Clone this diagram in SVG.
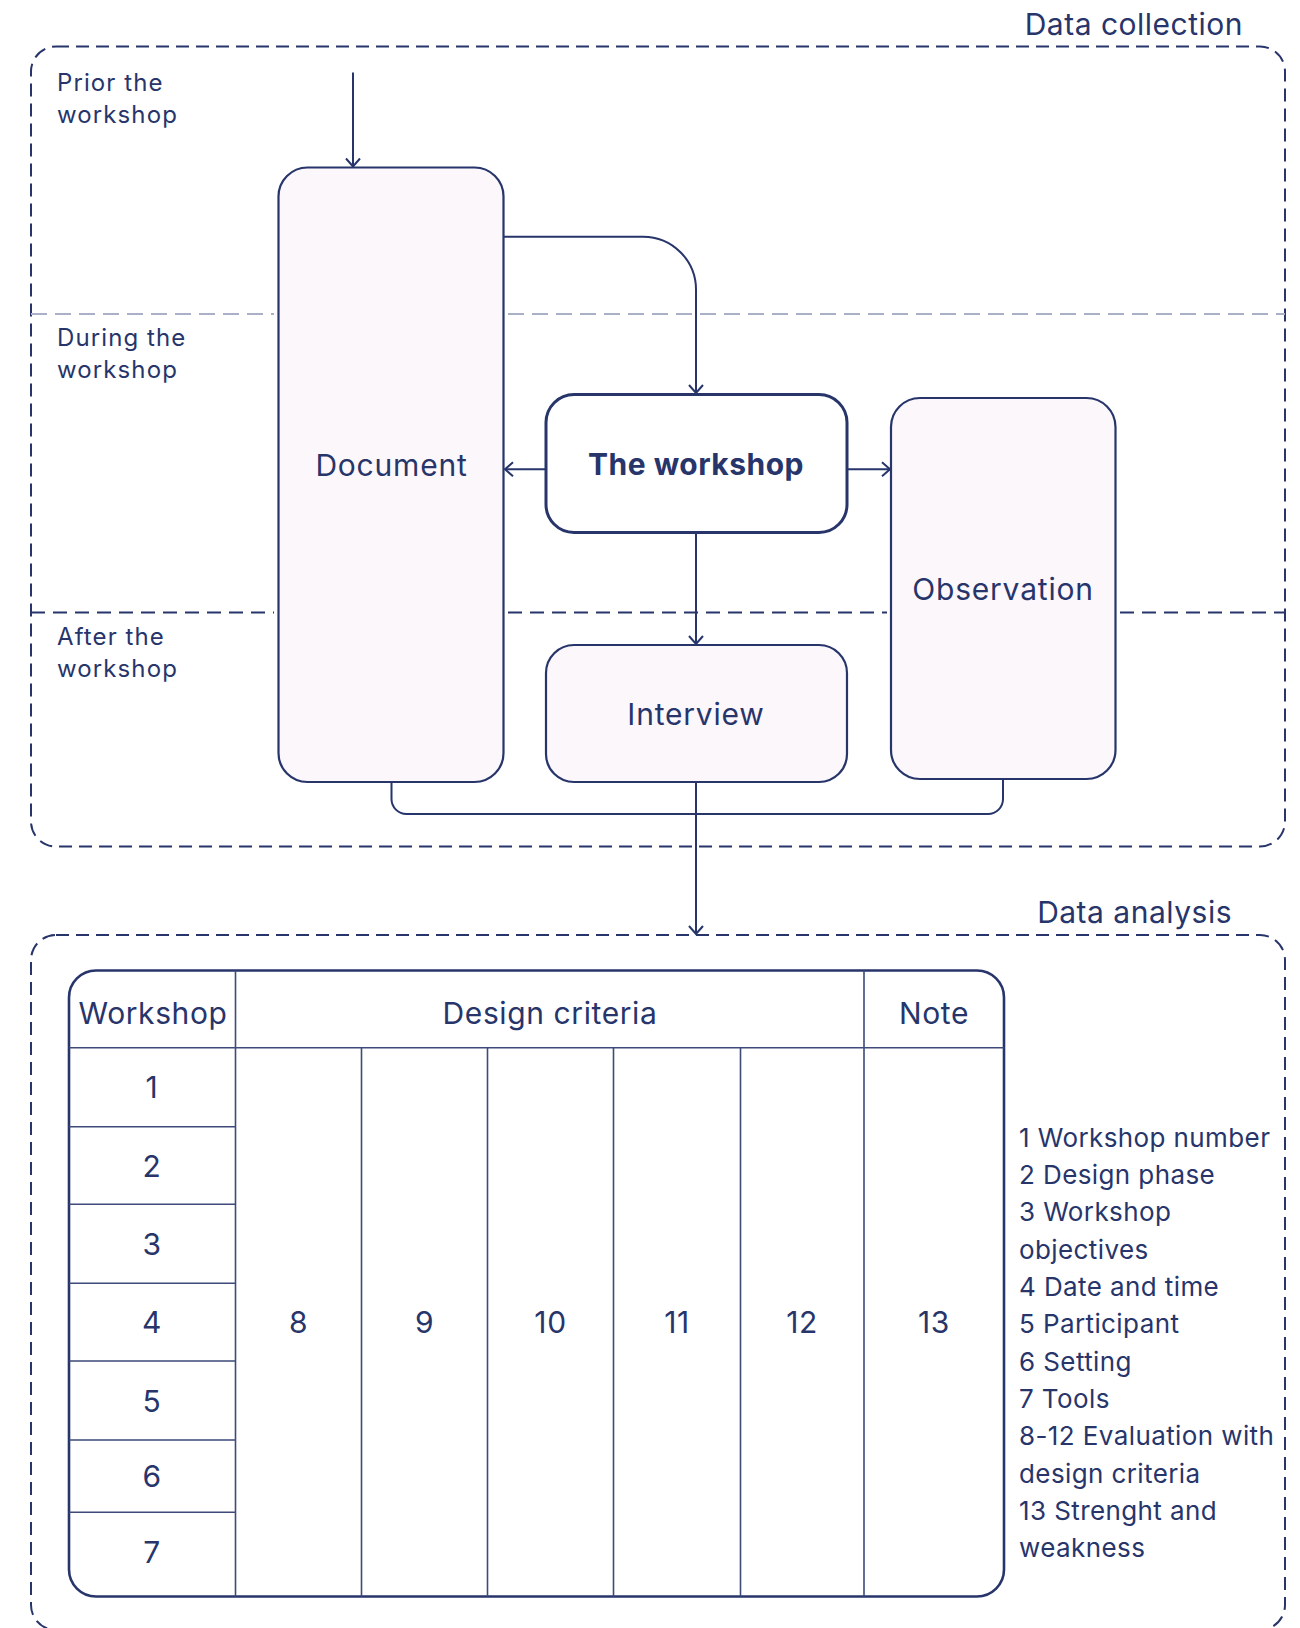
<svg xmlns="http://www.w3.org/2000/svg" width="1300" height="1628" viewBox="0 0 1300 1628">
  <style>
    text { font-family: Inter, "Liberation Sans", Arial, sans-serif; fill: #27356b; }
    .title { font-size: 30px; letter-spacing: 0.5px; text-anchor: end; }
    .phase { font-size: 24px; letter-spacing: 1.1px; }
    .node-label { font-size: 30px; letter-spacing: 0.8px; text-anchor: middle; }
    .bold { font-weight: 700; letter-spacing: 0.5px; }
    .cell { font-size: 30px; letter-spacing: 0.6px; text-anchor: middle; }
    .legend { font-size: 26px; letter-spacing: 0.4px; }
    .frame { fill: none; stroke: #27356b; stroke-width: 2; stroke-dasharray: 13 7; }
    .sep-light { fill: none; stroke: #a9b0c8; stroke-width: 2; stroke-dasharray: 16 8; }
    .sep-dark { fill: none; stroke: #27356b; stroke-width: 2; stroke-dasharray: 14 8; }
    .box { fill: #fcf7fb; stroke: #27356b; stroke-width: 2.2; }
    .box-main { fill: #ffffff; stroke: #27356b; stroke-width: 3; }
    .conn { fill: none; stroke: #27356b; stroke-width: 2; }
    .grid { fill: none; stroke: #3d4a7a; stroke-width: 1.6; }
    .tbl { fill: #ffffff; stroke: #27356b; stroke-width: 2.6; }
  </style>
  <defs>
    <marker id="arrow" viewBox="-10 -9 12 18" refX="0" refY="0" markerWidth="12" markerHeight="18" markerUnits="userSpaceOnUse" orient="auto">
      <path d="M-8,-7 L0,0 L-8,7" fill="none" stroke="#27356b" stroke-width="2"/>
    </marker>
  </defs>

  <!-- Data collection frame -->
  <g id="data-collection">
    <rect class="frame" x="31" y="46.5" width="1254" height="800" rx="25"/>
    <text class="title" x="1243" y="35">Data collection</text>
  </g>

  <!-- Phase separators -->
  <g id="phase-separators">
    <path class="sep-light" d="M31 314 H274 M508 314 H1285"/>
    <path class="sep-dark" d="M31 612.5 H274 M508 612.5 H887 M1120 612.5 H1285"/>
  </g>

  <!-- Phase labels -->
  <g id="phase-labels">
    <text class="phase" x="57" y="91">Prior the</text>
    <text class="phase" x="57" y="123">workshop</text>
    <text class="phase" x="57" y="346">During the</text>
    <text class="phase" x="57" y="378">workshop</text>
    <text class="phase" x="57" y="645">After the</text>
    <text class="phase" x="57" y="677">workshop</text>
  </g>

  <!-- Connectors -->
  <g id="connectors">
    <path class="conn" d="M353 72.5 V166.5" marker-end="url(#arrow)"/>
    <path class="conn" d="M504 236.7 H643 A53 53 0 0 1 696 289.7 V393" marker-end="url(#arrow)"/>
    <path class="conn" d="M545 469.3 H505" marker-end="url(#arrow)"/>
    <path class="conn" d="M847 469.3 H890" marker-end="url(#arrow)"/>
    <path class="conn" d="M696 533 V644" marker-end="url(#arrow)"/>
    <path class="conn" d="M391.5 782 V799 A15 15 0 0 0 406.5 814 H988 A15 15 0 0 0 1003 799 V779"/>
    <path class="conn" d="M696 782 V934" marker-end="url(#arrow)"/>
  </g>

  <!-- Nodes -->
  <g id="node-document">
    <rect class="box" x="278.5" y="167.5" width="225" height="614.5" rx="29"/>
    <text class="node-label" x="391.5" y="475.5">Document</text>
  </g>
  <g id="node-workshop">
    <rect class="box-main" x="546" y="394.5" width="301" height="138" rx="28"/>
    <text class="node-label bold" x="696" y="475">The workshop</text>
  </g>
  <g id="node-observation">
    <rect class="box" x="891" y="398" width="224.5" height="381" rx="29"/>
    <text class="node-label" x="1003" y="600">Observation</text>
  </g>
  <g id="node-interview">
    <rect class="box" x="546" y="645" width="301" height="137" rx="28"/>
    <text class="node-label" x="696" y="725">Interview</text>
  </g>

  <!-- Data analysis frame -->
  <g id="data-analysis">
    <rect class="frame" x="31" y="935" width="1254" height="695" rx="25"/>
    <text class="title" x="1232" y="923">Data analysis</text>
  </g>

  <!-- Analysis table -->
  <g id="analysis-table">
    <rect class="tbl" x="69" y="970.5" width="935" height="626" rx="27"/>
    <path class="grid" d="M69 1047.7 H1004
                          M235.5 970.5 V1596.5
                          M864 970.5 V1596.5
                          M361.5 1047.7 V1596.5
                          M487.5 1047.7 V1596.5
                          M613.5 1047.7 V1596.5
                          M740.5 1047.7 V1596.5
                          M69 1126.7 H235.5
                          M69 1204.3 H235.5
                          M69 1283.3 H235.5
                          M69 1361 H235.5
                          M69 1440 H235.5
                          M69 1512.3 H235.5"/>
    <text class="cell" x="153" y="1024">Workshop</text>
    <text class="cell" x="550" y="1024">Design criteria</text>
    <text class="cell" x="934" y="1024">Note</text>
    <text class="cell" x="152" y="1098">1</text>
    <text class="cell" x="152" y="1176.5">2</text>
    <text class="cell" x="152" y="1255">3</text>
    <text class="cell" x="152" y="1333">4</text>
    <text class="cell" x="152" y="1411.5">5</text>
    <text class="cell" x="152" y="1486.5">6</text>
    <text class="cell" x="152" y="1563">7</text>
    <text class="cell" x="298.5" y="1333">8</text>
    <text class="cell" x="424.5" y="1333">9</text>
    <text class="cell" x="550.5" y="1333">10</text>
    <text class="cell" x="677" y="1333">11</text>
    <text class="cell" x="802" y="1333">12</text>
    <text class="cell" x="934" y="1333">13</text>
  </g>

  <!-- Legend -->
  <g id="legend">
    <text class="legend" x="1019" y="1146.7">1 Workshop number</text>
    <text class="legend" x="1019" y="1184">2 Design phase</text>
    <text class="legend" x="1019" y="1221.3">3 Workshop</text>
    <text class="legend" x="1019" y="1258.6">objectives</text>
    <text class="legend" x="1019" y="1296">4 Date and time</text>
    <text class="legend" x="1019" y="1333.3">5 Participant</text>
    <text class="legend" x="1019" y="1370.6">6 Setting</text>
    <text class="legend" x="1019" y="1408">7 Tools</text>
    <text class="legend" x="1019" y="1445.3">8-12 Evaluation with</text>
    <text class="legend" x="1019" y="1482.6">design criteria</text>
    <text class="legend" x="1019" y="1520">13 Strenght and</text>
    <text class="legend" x="1019" y="1557.2">weakness</text>
  </g>
</svg>
